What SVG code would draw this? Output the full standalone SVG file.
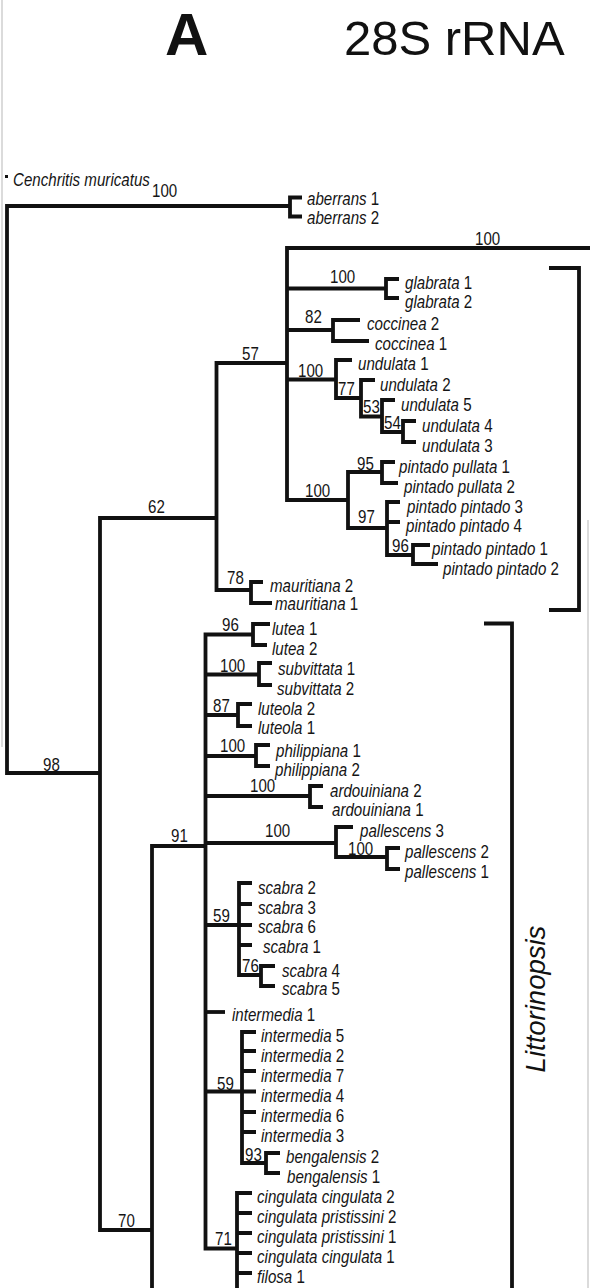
<svg xmlns="http://www.w3.org/2000/svg" width="590" height="1288" viewBox="0 0 590 1288">
<style>
.e{fill:none;stroke:#111;stroke-width:3.8;stroke-linejoin:miter;stroke-linecap:butt}
.t{font-family:"Liberation Sans",Arial,sans-serif;font-size:18px;fill:#151515}
.i{font-style:italic}
.b{font-family:"Liberation Sans",Arial,sans-serif;font-size:18px;fill:#151515}
.frame{stroke:#cfcfcf;stroke-width:1.5;fill:none}
</style>
<rect width="590" height="1288" fill="#fff"/>
<g id="frame">
<path class="frame" d="M2 0 V747 M588 520 V1288"/>
</g>
<g id="title">
<text x="165" y="55" font-family="Liberation Sans, Arial, sans-serif" font-size="60" font-weight="bold" fill="#111">A</text>
<text x="344" y="55" font-family="Liberation Sans, Arial, sans-serif" font-size="49" fill="#111">28S rRNA</text>
</g>
<g id="connectors">
<rect x="5" y="175" width="3" height="3" fill="#111"/>
<path class="e" d="M290 206 H7 V773 H100"/>
<path class="e" d="M302 197.5 H290 V216.5 H302"/>
<path class="e" d="M216.5 518 H100 V1230 H152"/>
<path class="e" d="M287 363 H216.5 V590 H251"/>
<path class="e" d="M590 248 H287 V500 H348"/>
<path class="e" d="M287 288.5 H386"/>
<path class="e" d="M399 279 H386 V298 H399"/>
<path class="e" d="M287 330 H333"/>
<path class="e" d="M360 320 H333 V341 H369"/>
<path class="e" d="M287 379.5 H336"/>
<path class="e" d="M352 360 H336 V398 H361"/>
<path class="e" d="M375 380 H361 V416.5 H382"/>
<path class="e" d="M395 400 H382 V432 H403"/>
<path class="e" d="M416 421 H403 V442 H416"/>
<path class="e" d="M382 472 H348 V528 H387"/>
<path class="e" d="M395 462 H382 V483 H398"/>
<path class="e" d="M400 502 H387 V555 H413 M387 522 H400"/>
<path class="e" d="M430 545 H413 V564 H438"/>
<path class="e" d="M263 582 H251 V603 H272"/>
<path class="e" d="M549 268 H579 V610 H549"/>
<path class="e" d="M205.5 846 H152 V1290"/>
<path class="e" d="M253 634.5 H205.5 V1248.5 H237"/>
<path class="e" d="M270 624 H253 V645 H267"/>
<path class="e" d="M205.5 674.5 H259"/>
<path class="e" d="M272 663 H259 V685 H272"/>
<path class="e" d="M205.5 715 H238"/>
<path class="e" d="M252 704 H238 V726 H252"/>
<path class="e" d="M205.5 756 H256"/>
<path class="e" d="M270 745 H256 V766 H270"/>
<path class="e" d="M205.5 796 H310"/>
<path class="e" d="M323 786 H310 V807 H323"/>
<path class="e" d="M205.5 843 H336"/>
<path class="e" d="M353 827 H336 V857 H387"/>
<path class="e" d="M400 848 H387 V869 H400"/>
<path class="e" d="M205.5 925 H252"/>
<path class="e" d="M252 883 H239 V975 H261 M239 904 H252 M239 945 H252"/>
<path class="e" d="M275 966 H261 V986 H275"/>
<path class="e" d="M205.5 1012 H225"/>
<path class="e" d="M205.5 1091.5 H256"/>
<path class="e" d="M256 1032 H242 V1163 H266 M242 1051 H256 M242 1071 H256 M242 1112 H256 M242 1132 H256"/>
<path class="e" d="M280 1153 H266 V1173 H280"/>
<path class="e" d="M252 1193 H237 V1290 M237 1213 H252 M237 1233 H252 M237 1253 H252 M237 1273 H252"/>
<path class="e" d="M484 623.5 H512 V1290"/>
</g>
<g id="support">
<text class="b" transform="translate(152 197) scale(.84 1)">100</text>
<text class="b" transform="translate(475 245) scale(.84 1)">100</text>
<text class="b" transform="translate(330 283) scale(.84 1)">100</text>
<text class="b" transform="translate(305 323) scale(.84 1)">82</text>
<text class="b" transform="translate(298 377) scale(.84 1)">100</text>
<text class="b" transform="translate(338 395) scale(.84 1)">77</text>
<text class="b" transform="translate(363 413) scale(.84 1)">53</text>
<text class="b" transform="translate(384 429) scale(.84 1)">54</text>
<text class="b" transform="translate(242 360) scale(.84 1)">57</text>
<text class="b" transform="translate(357 470) scale(.84 1)">95</text>
<text class="b" transform="translate(305 497) scale(.84 1)">100</text>
<text class="b" transform="translate(358 523) scale(.84 1)">97</text>
<text class="b" transform="translate(392 552) scale(.84 1)">96</text>
<text class="b" transform="translate(148 513) scale(.84 1)">62</text>
<text class="b" transform="translate(227 584) scale(.84 1)">78</text>
<text class="b" transform="translate(222 631) scale(.84 1)">96</text>
<text class="b" transform="translate(220 672) scale(.84 1)">100</text>
<text class="b" transform="translate(213 712) scale(.84 1)">87</text>
<text class="b" transform="translate(220 752) scale(.84 1)">100</text>
<text class="b" transform="translate(250 792) scale(.84 1)">100</text>
<text class="b" transform="translate(171 842) scale(.84 1)">91</text>
<text class="b" transform="translate(265 837) scale(.84 1)">100</text>
<text class="b" transform="translate(348 855) scale(.84 1)">100</text>
<text class="b" transform="translate(213 922) scale(.84 1)">59</text>
<text class="b" transform="translate(242 972) scale(.84 1)">76</text>
<text class="b" transform="translate(217 1090) scale(.84 1)">59</text>
<text class="b" transform="translate(245 1161) scale(.84 1)">93</text>
<text class="b" transform="translate(215 1245) scale(.84 1)">71</text>
<text class="b" transform="translate(118 1227) scale(.84 1)">70</text>
<text class="b" transform="translate(43 771) scale(.84 1)">98</text>
</g>
<g id="tip-cenchritis"><text class="t i" transform="translate(13 186) scale(.84 1)">Cenchritis muricatus</text></g>
<g id="tip-aberrans1"><text class="t" transform="translate(307 205) scale(.84 1)"><tspan class="i">aberrans</tspan> 1</text></g>
<g id="tip-aberrans2"><text class="t" transform="translate(307 224) scale(.84 1)"><tspan class="i">aberrans</tspan> 2</text></g>
<g id="tip-glabrata1"><text class="t" transform="translate(405 289) scale(.84 1)"><tspan class="i">glabrata</tspan> 1</text></g>
<g id="tip-glabrata2"><text class="t" transform="translate(405 308) scale(.84 1)"><tspan class="i">glabrata</tspan> 2</text></g>
<g id="tip-coccinea2"><text class="t" transform="translate(367 330) scale(.84 1)"><tspan class="i">coccinea</tspan> 2</text></g>
<g id="tip-coccinea1"><text class="t" transform="translate(375 350) scale(.84 1)"><tspan class="i">coccinea</tspan> 1</text></g>
<g id="tip-undulata1"><text class="t" transform="translate(358 370) scale(.84 1)"><tspan class="i">undulata</tspan> 1</text></g>
<g id="tip-undulata2"><text class="t" transform="translate(380 391) scale(.84 1)"><tspan class="i">undulata</tspan> 2</text></g>
<g id="tip-undulata5"><text class="t" transform="translate(401 411) scale(.84 1)"><tspan class="i">undulata</tspan> 5</text></g>
<g id="tip-undulata4"><text class="t" transform="translate(422 432) scale(.84 1)"><tspan class="i">undulata</tspan> 4</text></g>
<g id="tip-undulata3"><text class="t" transform="translate(422 452) scale(.84 1)"><tspan class="i">undulata</tspan> 3</text></g>
<g id="tip-pullata1"><text class="t" transform="translate(399 473) scale(.84 1)"><tspan class="i">pintado pullata</tspan> 1</text></g>
<g id="tip-pullata2"><text class="t" transform="translate(404 493) scale(.84 1)"><tspan class="i">pintado pullata</tspan> 2</text></g>
<g id="tip-pintado3"><text class="t" transform="translate(407 513) scale(.84 1)"><tspan class="i">pintado pintado</tspan> 3</text></g>
<g id="tip-pintado4"><text class="t" transform="translate(406 532) scale(.84 1)"><tspan class="i">pintado pintado</tspan> 4</text></g>
<g id="tip-pintado1"><text class="t" transform="translate(432 555) scale(.84 1)"><tspan class="i">pintado pintado</tspan> 1</text></g>
<g id="tip-pintado2"><text class="t" transform="translate(443 575) scale(.84 1)"><tspan class="i">pintado pintado</tspan> 2</text></g>
<g id="tip-mauritiana2"><text class="t" transform="translate(270 592) scale(.84 1)"><tspan class="i">mauritiana</tspan> 2</text></g>
<g id="tip-mauritiana1"><text class="t" transform="translate(275 610) scale(.84 1)"><tspan class="i">mauritiana</tspan> 1</text></g>
<g id="tip-lutea1"><text class="t" transform="translate(272 635) scale(.84 1)"><tspan class="i">lutea</tspan> 1</text></g>
<g id="tip-lutea2"><text class="t" transform="translate(272 655) scale(.84 1)"><tspan class="i">lutea</tspan> 2</text></g>
<g id="tip-subvittata1"><text class="t" transform="translate(278 675) scale(.84 1)"><tspan class="i">subvittata</tspan> 1</text></g>
<g id="tip-subvittata2"><text class="t" transform="translate(277 695) scale(.84 1)"><tspan class="i">subvittata</tspan> 2</text></g>
<g id="tip-luteola2"><text class="t" transform="translate(258 715) scale(.84 1)"><tspan class="i">luteola</tspan> 2</text></g>
<g id="tip-luteola1"><text class="t" transform="translate(258 734) scale(.84 1)"><tspan class="i">luteola</tspan> 1</text></g>
<g id="tip-philippiana1"><text class="t" transform="translate(276 757) scale(.84 1)"><tspan class="i">philippiana</tspan> 1</text></g>
<g id="tip-philippiana2"><text class="t" transform="translate(275 776) scale(.84 1)"><tspan class="i">philippiana</tspan> 2</text></g>
<g id="tip-ardouiniana2"><text class="t" transform="translate(330 797) scale(.84 1)"><tspan class="i">ardouiniana</tspan> 2</text></g>
<g id="tip-ardouiniana1"><text class="t" transform="translate(332 816) scale(.84 1)"><tspan class="i">ardouiniana</tspan> 1</text></g>
<g id="tip-pallescens3"><text class="t" transform="translate(360 837) scale(.84 1)"><tspan class="i">pallescens</tspan> 3</text></g>
<g id="tip-pallescens2"><text class="t" transform="translate(405 858) scale(.84 1)"><tspan class="i">pallescens</tspan> 2</text></g>
<g id="tip-pallescens1"><text class="t" transform="translate(405 878) scale(.84 1)"><tspan class="i">pallescens</tspan> 1</text></g>
<g id="tip-scabra2"><text class="t" transform="translate(258 894) scale(.84 1)"><tspan class="i">scabra</tspan> 2</text></g>
<g id="tip-scabra3"><text class="t" transform="translate(258 914) scale(.84 1)"><tspan class="i">scabra</tspan> 3</text></g>
<g id="tip-scabra6"><text class="t" transform="translate(258 933) scale(.84 1)"><tspan class="i">scabra</tspan> 6</text></g>
<g id="tip-scabra1"><text class="t" transform="translate(263 953) scale(.84 1)"><tspan class="i">scabra</tspan> 1</text></g>
<g id="tip-scabra4"><text class="t" transform="translate(282 977) scale(.84 1)"><tspan class="i">scabra</tspan> 4</text></g>
<g id="tip-scabra5"><text class="t" transform="translate(282 995) scale(.84 1)"><tspan class="i">scabra</tspan> 5</text></g>
<g id="tip-intermedia1"><text class="t" transform="translate(232 1021) scale(.84 1)"><tspan class="i">intermedia</tspan> 1</text></g>
<g id="tip-intermedia5"><text class="t" transform="translate(261 1042) scale(.84 1)"><tspan class="i">intermedia</tspan> 5</text></g>
<g id="tip-intermedia2"><text class="t" transform="translate(261 1062) scale(.84 1)"><tspan class="i">intermedia</tspan> 2</text></g>
<g id="tip-intermedia7"><text class="t" transform="translate(261 1082) scale(.84 1)"><tspan class="i">intermedia</tspan> 7</text></g>
<g id="tip-intermedia4"><text class="t" transform="translate(261 1102) scale(.84 1)"><tspan class="i">intermedia</tspan> 4</text></g>
<g id="tip-intermedia6"><text class="t" transform="translate(261 1122) scale(.84 1)"><tspan class="i">intermedia</tspan> 6</text></g>
<g id="tip-intermedia3"><text class="t" transform="translate(261 1142) scale(.84 1)"><tspan class="i">intermedia</tspan> 3</text></g>
<g id="tip-bengalensis2"><text class="t" transform="translate(286 1163) scale(.84 1)"><tspan class="i">bengalensis</tspan> 2</text></g>
<g id="tip-bengalensis1"><text class="t" transform="translate(287 1183) scale(.84 1)"><tspan class="i">bengalensis</tspan> 1</text></g>
<g id="tip-cc2"><text class="t" transform="translate(257 1203) scale(.84 1)"><tspan class="i">cingulata cingulata</tspan> 2</text></g>
<g id="tip-cp2"><text class="t" transform="translate(257 1223) scale(.84 1)"><tspan class="i">cingulata pristissini</tspan> 2</text></g>
<g id="tip-cp1"><text class="t" transform="translate(257 1243) scale(.84 1)"><tspan class="i">cingulata pristissini</tspan> 1</text></g>
<g id="tip-cc1"><text class="t" transform="translate(257 1263) scale(.84 1)"><tspan class="i">cingulata cingulata</tspan> 1</text></g>
<g id="tip-filosa1"><text class="t" transform="translate(257 1283) scale(.84 1)"><tspan class="i">filosa</tspan> 1</text></g>
<g id="clade-littorinopsis">
<text transform="translate(545 999) rotate(-90)" text-anchor="middle" font-family="Liberation Sans, Arial, sans-serif" font-size="27.5" font-style="italic" fill="#111">Littorinopsis</text>
</g>
</svg>
